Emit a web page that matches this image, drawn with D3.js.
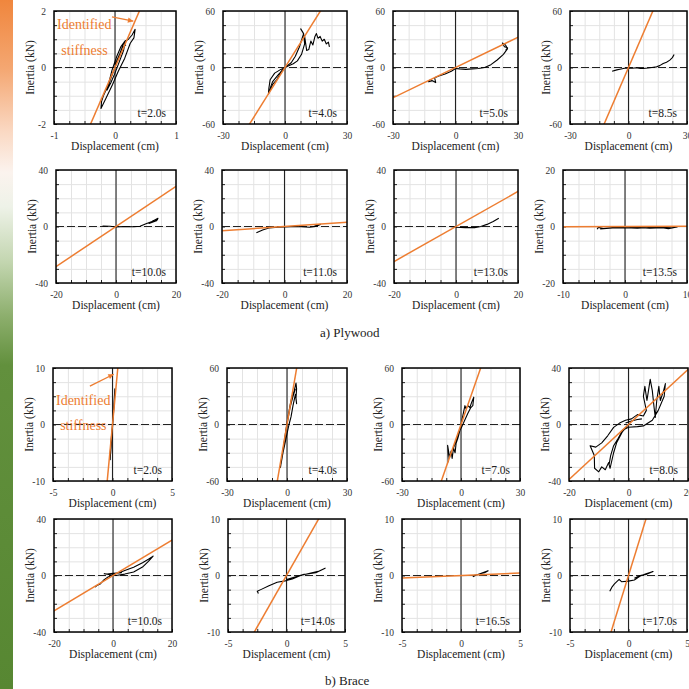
<!DOCTYPE html>
<html>
<head>
<meta charset="utf-8">
<script src="https://cdn.jsdelivr.net/npm/d3@7"></script>
<style>
  body { margin: 0; background: #fff; }
  svg, svg text { font-family: "Liberation Serif", "DejaVu Serif", serif; }
</style>
</head>
<body>
<svg id="chart" width="689" height="689"></svg>
<script>
// panel settings, in reading order: plywood row 1, row 2, brace row 1, row 2
const xDomains = [[-1, 1], [-30, 30], [-30, 30], [-30, 30],
                  [-20, 20], [-20, 20], [-20, 20], [-10, 10],
                  [-5, 5], [-30, 30], [-30, 30], [-20, 20],
                  [-20, 20], [-5, 5], [-5, 5], [-5, 5]];
const yDomains = [[-2, 2], [-60, 60], [-60, 60], [-60, 60],
                  [-40, 40], [-40, 40], [-40, 40], [-20, 20],
                  [-10, 10], [-60, 60], [-60, 60], [-40, 40],
                  [-40, 40], [-10, 10], [-10, 10], [-10, 10]];
const timeLabels = ['t=2.0s', 't=4.0s', 't=5.0s', 't=8.5s',
                    't=10.0s', 't=11.0s', 't=13.0s', 't=13.5s',
                    't=2.0s', 't=4.0s', 't=7.0s', 't=8.0s',
                    't=10.0s', 't=14.0s', 't=16.5s', 't=17.0s'];
// identified stiffness (kN/cm), slope of the orange line
const stiffness = [5.0, 3.5, 1.07, 4.8,
                   1.42, 0.15, 1.24, 0.01,
                   22.5, 12.4, 6.0, 1.95,
                   1.25, 3.64, 0.09, 6.7];

// displacement (cm), inertia (kN) traces
const plyT20 = [[0.0,0.1],[0.08,0.5],[0.15,0.9],[0.22,1.0],[0.28,1.15],[0.33,1.35],[0.31,1.05],[0.25,0.86],[0.16,0.33],[0.05,-0.15],[-0.04,-0.6],[-0.14,-1.05],[-0.23,-1.45],[-0.22,-1.2],[-0.19,-1.0],[-0.11,-0.62],[-0.05,-0.1],[0.03,0.4],[0.1,0.75],[0.17,0.95],[0.14,0.6],[0.07,0.2],[0.0,-0.2],[-0.07,-0.55],[-0.13,-0.8],[-0.08,-0.45],[-0.01,-0.05],[0.06,0.35],[0.12,0.7],[0.18,0.8]];
const plyT40 = [[0,0],[-2,-5],[-4,-13],[-6,-18],[-8,-28],[-7.8,-22],[-7.2,-13],[-5,-6],[-2,-2],[1,1],[4,4],[6,7],[8,14],[9.5,25],[9,36],[7.6,41],[8.5,38],[9.5,33],[10.5,18],[11.5,19],[12.5,28],[13.5,24],[14.5,33],[15.2,36],[16,31],[17,33],[18,28],[19,30],[20,25],[21,27],[21.5,22]];
const plyT40b = [[9,36],[7,22],[5,12],[3,5],[0,0],[-3,-7],[-6,-15],[-8,-27]];
const plyT50 = [[-11,-14],[-13,-15],[-12,-13],[-9.5,-16],[-10,-11],[-8,-9],[-5,-7],[-2,-4],[0,-1],[2,-1.5],[5,-2],[8,-1.5],[11,-1],[14,0],[17,3],[20,8],[23,14],[25,20],[24,24],[22.5,26],[23.5,22],[25,21],[24,18]];
const plyT85 = [[-8.4,-3.9],[-6,-2.5],[-4.4,-1.8],[-2,-0.8],[0,-0.4],[2,-0.8],[4,-0.2],[6,-1],[7.5,-1],[10,-0.5],[12,0],[14.4,0.7],[16,2],[17.8,4.2],[19.5,5.5],[21.2,7.8],[22.5,10.5],[23.4,13.8]];
const plyT100 = [[-4.5,0.3],[-2,0.2],[0,-0.3],[3,0],[6,-0.2],[8,0.2],[10,2],[12,3.5],[14,5.8],[13.5,4],[11,2.2],[12.5,4.2],[14,5]];
const plyT110 = [[-9,-4.5],[-7,-2.5],[-5,-1],[-2,-0.5],[0,-0.3],[4,0],[8,-0.5],[10,0],[11.5,1.5],[10.5,1],[9,-0.3]];
const plyT130 = [[-2,0],[0,-0.5],[3,-0.8],[6,-0.8],[8,0],[10,1.5],[12,3.5],[13.8,5.8]];
const plyT135 = [[-4.5,-1],[-4.3,-0.3],[-3.5,-0.7],[-2,-0.4],[0,-0.5],[2,-0.3],[4,-0.6],[6,-0.4],[7,-0.8],[8.4,-0.2],[7.5,-0.5],[5,-0.2],[2,-0.6],[-1,-0.3],[-4,-0.9]];
const brcT20 = [[-0.2,-6.3],[-0.1,-3],[0,0],[0.1,3],[0.2,6.3],[0.15,4],[0.05,1],[-0.05,-2],[-0.15,-5],[-0.22,-6],[-0.1,-2.5],[0.02,0.5],[0.12,3.5],[0.18,5.5]];
const brcT40 = [[-3.3,-46],[-2.5,-35],[-1.5,-20],[-0.5,-5],[0.5,8],[1.5,20],[2.5,30],[3.5,35],[4.5,44],[4.8,38],[4.5,28],[4.8,22],[4.2,32],[3,20],[2,8],[1,0],[0,-10],[-1,-20],[-2,-30],[-3,-42],[-2.8,-38],[-1.5,-22],[0,0],[1.5,18],[3,30],[4.2,38]];
const brcT70 = [[-6.5,-40],[-6.8,-22],[-5.8,-35],[-5,-28],[-4.5,-36],[-3.8,-25],[-3,-30],[-2.5,-20],[-1.5,-14],[-0.5,-6],[0.5,5],[1.2,12],[2,20],[2.5,17],[3.5,20],[4.5,18],[5.5,24],[6.5,29],[6,20],[5,18],[3.5,12],[2,5],[0.5,-2],[-1,-8],[-2,-14],[-3,-20],[-4,-26]];
const brcT80 = [[0,0],[-2,-5],[-4,-13],[-5,-20],[-6.2,-31],[-6.7,-27],[-7.8,-32],[-9,-30],[-10,-33.5],[-11.4,-31],[-11.5,-22],[-12.5,-17],[-12.9,-15],[-11,-16],[-9,-13],[-7,-8],[-5,-2],[-3,1],[-1,3],[1,4],[3,7],[5,6],[6,10],[5,20],[5.5,27],[6.2,17],[7.3,32],[8,24],[8.6,12],[9,5],[9.5,17],[10.2,27],[10.7,17],[11.8,24],[12.4,29],[12,20],[10,10],[8,3],[5,-1],[3,-1.5],[0,-2],[-2,-4],[-3.5,-10],[-5,-15],[-6,-22],[-6.5,-28]];
const brcT80b = [[-1,1],[1,2.5],[3,3.5],[4.5,4]];
const brcT100 = [[-6,-8.3],[-5.5,-7],[-4.3,-6],[-3,-3],[-2,-1.5],[0,0.5],[2,2],[4,3.5],[7,5.9],[10,9],[12,11.5],[13.6,13.7],[12,10],[10,6],[7,2.5],[4,1],[1,0],[-1,0.5],[-3,1.2],[-2,1],[0,1.5],[3,2]];
const brcT140 = [[-2.4,-3.2],[-2.5,-2.8],[-2.2,-2.5],[-1.5,-1.8],[-0.8,-1.2],[0,-0.9],[0.5,-0.6],[1.2,0],[2,0.4],[2.8,0.8],[3.3,1.3],[2.5,0.5],[1.5,0.2],[0.5,-0.4],[0,-0.7]];
const brcT165 = [[1,-0.2],[1.3,0.1],[1.6,0.3],[2,0.5],[2.3,0.85],[2,0.6],[1.5,0.2],[1.1,0]];
const brcT170 = [[-1.6,-2.8],[-1.4,-2],[-1.2,-1.5],[-0.8,-0.7],[-0.6,-1.1],[0,-1],[0.5,-0.8],[1,-0.1],[1.5,0.3],[2.1,0.7],[1.5,0.2],[1,0],[0.5,-0.5]];

const traces = [[plyT20], [plyT40, plyT40b], [plyT50], [plyT85],
                [plyT100], [plyT110], [plyT130], [plyT135],
                [brcT20], [brcT40], [brcT70], [brcT80, brcT80b],
                [brcT100], [brcT140], [brcT165], [brcT170]];

// plot area boxes [left, top, right, bottom]
const layout = [[54, 11, 176, 124], [223, 11, 347, 124], [393, 11, 518, 124], [570, 11, 687, 124],
                [56, 170, 176, 283], [222, 170, 347, 283], [394, 170, 518, 283], [563, 170, 687, 283],
                [53, 368, 172, 481], [227, 368, 347, 481], [402, 368, 520, 481], [569, 368, 688, 481],
                [54, 519, 172, 632], [228, 519, 345, 632], [402, 519, 520, 632], [570, 519, 687, 632]];

const orange = '#ED7D31';
const serif = '"Liberation Serif", "DejaVu Serif", serif';
const svg = d3.select('#chart');
const defs = svg.append('defs');

// side colour strip
const grad = defs.append('linearGradient').attr('id', 'strip')
  .attr('x1', 0).attr('y1', 0).attr('x2', 0).attr('y2', 1);
[[0, '#f0863d'], [0.1, '#f4a772'], [0.19, '#fad8c2'], [0.25, '#fbf3ee'], [0.3, '#eef2e8'],
 [0.38, '#c3d6b0'], [0.46, '#8cae6c'], [0.53, '#62903d'], [1, '#578732']]
  .forEach(s => grad.append('stop').attr('offset', s[0]).attr('stop-color', s[1]));
svg.append('rect').attr('x', 0).attr('y', 0).attr('width', 13).attr('height', 689)
  .attr('fill', 'url(#strip)');

const fmt = d => String(d);

layout.forEach((box, i) => {
  const [x0, y0, x1, y1] = box;
  const xd = xDomains[i], yd = yDomains[i];
  const x = d3.scaleLinear().domain(xd).range([x0, x1]);
  const y = d3.scaleLinear().domain(yd).range([y1, y0]);
  const g = svg.append('g').attr('font-family', serif);

  defs.append('clipPath').attr('id', 'clip' + i)
    .append('rect').attr('x', x0).attr('y', y0).attr('width', x1 - x0).attr('height', y1 - y0);

  // grid, 8 divisions each way
  const xg = d3.range(9).map(k => xd[0] + k * (xd[1] - xd[0]) / 8);
  const yg = d3.range(9).map(k => yd[0] + k * (yd[1] - yd[0]) / 8);
  g.append('g').attr('transform', `translate(0,${y1})`)
    .call(d3.axisBottom(x).tickValues(xg).tickSize(-(y1 - y0)).tickFormat(''))
    .call(a => a.select('.domain').remove())
    .call(a => a.selectAll('line').attr('stroke', '#e3e3e3'));
  g.append('g').attr('transform', `translate(${x0},0)`)
    .call(d3.axisLeft(y).tickValues(yg).tickSize(-(x1 - x0)).tickFormat(''))
    .call(a => a.select('.domain').remove())
    .call(a => a.selectAll('line').attr('stroke', '#e3e3e3'));

  // inward minor ticks
  g.append('g').attr('transform', `translate(0,${y1})`)
    .call(d3.axisBottom(x).tickValues(xg).tickSize(-3).tickFormat(''))
    .call(a => a.select('.domain').remove())
    .call(a => a.selectAll('line').attr('stroke', '#222'));
  g.append('g').attr('transform', `translate(${x0},0)`)
    .call(d3.axisLeft(y).tickValues(yg).tickSize(-3).tickFormat(''))
    .call(a => a.select('.domain').remove())
    .call(a => a.selectAll('line').attr('stroke', '#222'));

  // zero lines
  g.append('line').attr('x1', x(0)).attr('x2', x(0)).attr('y1', y0).attr('y2', y1)
    .attr('stroke', '#222').attr('stroke-width', 1.1);
  g.append('line').attr('x1', x0).attr('x2', x1).attr('y1', y(0)).attr('y2', y(0))
    .attr('stroke', '#222').attr('stroke-width', 1.1).attr('stroke-dasharray', '8,3');

  // measured response
  const line = d3.line().x(d => x(d[0])).y(d => y(d[1]));
  const clipped = g.append('g').attr('clip-path', `url(#clip${i})`);
  traces[i].forEach(tr => {
    clipped.append('path').datum(tr).attr('d', line)
      .attr('fill', 'none').attr('stroke', '#000').attr('stroke-width', 1.1)
      .attr('stroke-linejoin', 'round');
  });

  // identified stiffness line
  const k = stiffness[i];
  clipped.append('path').datum([[xd[0] * 1.2, k * xd[0] * 1.2], [xd[1] * 1.2, k * xd[1] * 1.2]])
    .attr('d', line).attr('fill', 'none').attr('stroke', orange).attr('stroke-width', 1.5);

  // frame
  g.append('rect').attr('x', x0).attr('y', y0).attr('width', x1 - x0).attr('height', y1 - y0)
    .attr('fill', 'none').attr('stroke', '#000').attr('stroke-width', 1.5);

  // tick labels
  g.append('g').attr('transform', `translate(0,${y1})`)
    .call(d3.axisBottom(x).tickValues([xd[0], 0, xd[1]]).tickSize(0).tickPadding(8).tickFormat(fmt))
    .call(a => a.attr('font-family', serif).select('.domain').remove())
    .call(a => a.selectAll('text').attr('font-family', serif).attr('font-size', 9.5).attr('fill', '#333'));
  g.append('g').attr('transform', `translate(${x0},0)`)
    .call(d3.axisLeft(y).tickValues([yd[0], 0, yd[1]]).tickSize(0).tickPadding(8).tickFormat(fmt))
    .call(a => a.attr('font-family', serif).select('.domain').remove())
    .call(a => a.selectAll('text').attr('font-family', serif).attr('font-size', 9.5).attr('fill', '#333'));

  // axis titles
  g.append('text').attr('x', (x0 + x1) / 2).attr('y', y1 + 26)
    .attr('text-anchor', 'middle').attr('font-size', 11.5).attr('fill', '#222')
    .text('Displacement (cm)');
  g.append('text').attr('transform', `translate(${x0 - 24},${(y0 + y1) / 2}) rotate(-90)`)
    .attr('text-anchor', 'middle').attr('dy', '0.35em').attr('font-size', 11.5).attr('fill', '#222')
    .text('Inertia (kN)');

  // time stamp
  g.append('text').attr('x', x1 - 10).attr('y', y1 - 7)
    .attr('text-anchor', 'end').attr('font-size', 11.5).attr('fill', '#222')
    .text(timeLabels[i]);

  // annotation in the first panel of each group
  if (i === 0 || i === 8) {
    const ann = i === 0
      ? { from: [-0.05, 1.79], to: [0.3, 1.64], t1: [-0.95, 1.35], t2: [-0.88, 0.45] }
      : { from: [-1.9, 6.8], to: [0.1, 8.9], t1: [-4.75, 3.5], t2: [-4.4, -0.95] };
    g.append('line').attr('x1', x(ann.from[0])).attr('y1', y(ann.from[1]))
      .attr('x2', x(ann.to[0])).attr('y2', y(ann.to[1]))
      .attr('stroke', orange).attr('stroke-width', 1.3);
    const ang = Math.atan2(y(ann.to[1]) - y(ann.from[1]), x(ann.to[0]) - x(ann.from[0]));
    const tx = x(ann.to[0]), ty = y(ann.to[1]);
    const hp = [[tx, ty],
      [tx - 6 * Math.cos(ang - 0.45), ty - 6 * Math.sin(ang - 0.45)],
      [tx - 6 * Math.cos(ang + 0.45), ty - 6 * Math.sin(ang + 0.45)]];
    g.append('path').attr('d', 'M' + hp.map(p => p.join(',')).join('L') + 'Z').attr('fill', orange);
    g.append('text').attr('x', x(ann.t1[0])).attr('y', y(ann.t1[1]))
      .attr('font-size', 14).attr('fill', orange).text('Identified');
    g.append('text').attr('x', x(ann.t2[0])).attr('y', y(ann.t2[1]))
      .attr('font-size', 14).attr('fill', orange).text('stiffness');
  }
});

// group captions
svg.append('text').attr('x', 320).attr('y', 337).attr('font-family', serif)
  .attr('font-size', 13).attr('fill', '#222').text('a) Plywood');
svg.append('text').attr('x', 325).attr('y', 685).attr('font-family', serif)
  .attr('font-size', 13).attr('fill', '#222').text('b) Brace');
</script>
</body>
</html>
